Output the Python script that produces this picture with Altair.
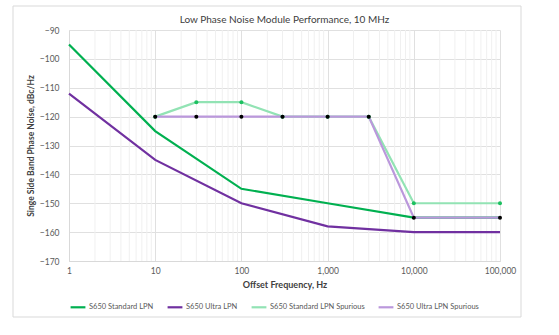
import altair as alt
import pandas as pd

# ---- data ----
freq = [1, 10, 100, 1000, 10000, 100000]
std_lpn = [-95, -125, -145, -150, -155, -155]
ultra_lpn = [-112, -135, -150, -158, -160, -160]

spur_freq = [10, 30, 100, 300, 1000, 3000, 10000, 100000]
std_spur = [-120, -115, -115, -120, -120, -120, -150, -150]
ultra_spur = [-120, -120, -120, -120, -120, -120, -155, -155]

series_names = ["S650 Standard LPN", "S650 Ultra LPN",
                "S650 Standard LPN Spurious", "S650 Ultra LPN Spurious"]
x_ticks = [1, 10, 100, 1000, 10000, 100000]
y_ticks = [-170, -160, -150, -140, -130, -120, -110, -100, -90]
minor_x = [m * 10 ** k for k in range(5) for m in range(2, 10)]

line_colors = ["#00b050", "#7030a0", "#92e3b4", "#bb98dc"]
line_widths = [2.2, 2.2, 1.3, 1.3]

rows = []
for f, v in zip(freq, std_lpn):
    rows.append({"series": series_names[0], "f": f, "v": v})
for f, v in zip(freq, ultra_lpn):
    rows.append({"series": series_names[1], "f": f, "v": v})
for f, v in zip(spur_freq, std_spur):
    rows.append({"series": series_names[2], "f": f, "v": v})
for f, v in zip(spur_freq, ultra_spur):
    rows.append({"series": series_names[3], "f": f, "v": v})
df = pd.DataFrame(rows)

FONT = "Lato"

xscale = alt.Scale(type="log", domain=[1, 100000])
yscale = alt.Scale(domain=[-170, -90])

xaxis = alt.Axis(values=x_ticks, format=",", labelFlush=False,
                 title="Offset Frequency, Hz", grid=True,
                 gridColor="#e0e0e0", domainColor="#d9d9d9",
                 ticks=False, labelPadding=5, titlePadding=6,
                 labelFontSize=8.5, labelColor="#595959",
                 titleFontSize=9, titleColor="#404040",
                 titleFontWeight="bold", labelFont=FONT,
                 titleFont=FONT, labelOverlap=False)
yaxis = alt.Axis(values=y_ticks, title="Singe Side Band Phase Noise, dBc/Hz",
                 grid=True, gridColor="#e0e0e0", domainColor="#d9d9d9",
                 ticks=False, labelPadding=10, titlePadding=4,
                 labelFontSize=8.5, labelColor="#595959",
                 titleFontSize=8.5, titleColor="#404040",
                 titleFontWeight="bold", labelFont=FONT,
                 titleFont=FONT, labelOverlap=False)

border = alt.Chart(pd.DataFrame({"a": [0]})).mark_rect(
    fill="white", fillOpacity=0, stroke="#d9d9d9", strokeWidth=1
).encode(
    x=alt.value(-56), x2=alt.value(452), y=alt.value(-24), y2=alt.value(287)
)

minor = alt.Chart(pd.DataFrame({"f": minor_x})).mark_rule(
    color="#f0f0f0", strokeWidth=1
).encode(
    x=alt.X("f:Q", scale=xscale, axis=xaxis),
)

lines = alt.Chart(df).mark_line().encode(
    x=alt.X("f:Q", scale=xscale, axis=xaxis),
    y=alt.Y("v:Q", scale=yscale, axis=yaxis),
    color=alt.Color("series:N",
                    scale=alt.Scale(domain=series_names, range=line_colors),
                    legend=alt.Legend(title=None, orient="none", legendX=0,
                                      legendY=268, direction="horizontal",
                                      symbolType="stroke", symbolSize=220,
                                      symbolStrokeWidth=2, labelFontSize=7.5,
                                      labelColor="#595959", labelFont=FONT,
                                      columnPadding=9, labelOffset=2)),
    strokeWidth=alt.StrokeWidth("series:N",
                                scale=alt.Scale(domain=series_names, range=line_widths),
                                legend=None),
)

pts_std = alt.Chart(df[df.series == series_names[2]]).mark_point(
    filled=True, size=16, color="#1cc060", opacity=1
).encode(x=alt.X("f:Q", scale=xscale, axis=xaxis),
         y=alt.Y("v:Q", scale=yscale, axis=yaxis))

pts_ultra = alt.Chart(df[df.series == series_names[3]]).mark_point(
    filled=True, size=16, color="#000000", opacity=1
).encode(x=alt.X("f:Q", scale=xscale, axis=xaxis),
         y=alt.Y("v:Q", scale=yscale, axis=yaxis))

chart = alt.layer(minor, lines, border, pts_std, pts_ultra).properties(
    width=431, height=231,
    padding={"left": 69, "top": 30, "right": 59, "bottom": 74},
    autosize=alt.AutoSizeParams(type="none"),
    title=alt.TitleParams("Low Phase Noise Module Performance, 10 MHz",
                          fontSize=10, font=FONT, color="#404040",
                          fontWeight="normal", anchor="middle", offset=-19),
    background="white",
).configure_view(stroke=None)

chart.save("out.html", embed_options={"renderer": "svg", "actions": False})
